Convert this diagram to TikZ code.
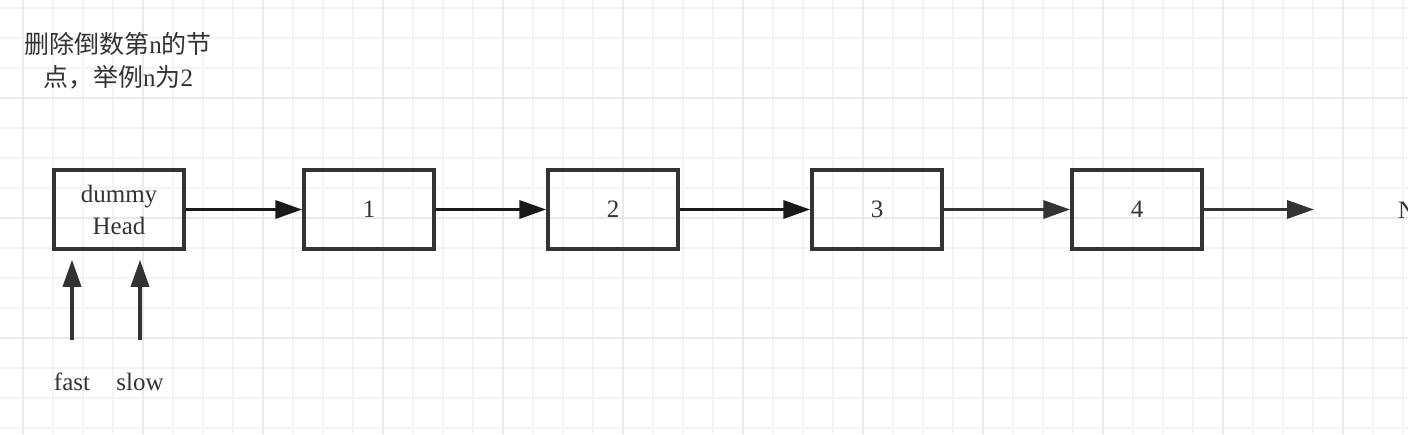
\documentclass[tikz,border=0pt]{standalone}
\usepackage{fontspec}
\setmainfont{Liberation Serif}
\newfontfamily\cjk{Noto Sans CJK SC}
\usetikzlibrary{arrows.meta}
\definecolor{linegray}{HTML}{333333}
\definecolor{gridminor}{HTML}{F4F4F4}
\definecolor{gridmajor}{HTML}{EAEAEA}

\begin{document}
\begin{tikzpicture}[x=1pt,y=-1pt,
  listnode/.style={draw=linegray,line width=3.5pt,minimum width=130pt,
    minimum height=79pt,inner sep=0pt,align=center,text=linegray,
    font=\fontsize{25}{32}\selectfont},
  plaintext/.style={inner sep=0pt,align=center,text=linegray,
    font=\fontsize{25}{33}\selectfont},
  link/.style={line width=3.5pt,-{Triangle[length=27pt,width=18pt]}}]
\useasboundingbox (0,0) rectangle (1408,434);
\fill[white] (0,0) rectangle (1408,434);
\foreach \x in {23,53,...,1403} \draw[gridminor,line width=2pt] (\x,0) -- (\x,434);
\foreach \y in {8,38,...,428} \draw[gridminor,line width=2pt] (0,\y) -- (1408,\y);
\foreach \x in {23,143,...,1343} \draw[gridmajor,line width=2pt] (\x,0) -- (\x,434);
\foreach \y in {98,218,338} \draw[gridmajor,line width=2pt] (0,\y) -- (1408,\y);

\node[plaintext] (title) at (118,61) {{\cjk 删除倒数第}n{\cjk 的节}\\{\cjk 点，举例}n{\cjk 为}2};

\node[listnode] (dummy) at (119,209.5) {dummy\\Head};
\node[listnode] (n1) at (369,209.5) {1};
\node[listnode] (n2) at (613,209.5) {2};
\node[listnode] (n3) at (877,209.5) {3};
\node[listnode] (n4) at (1137,209.5) {4};
\node[plaintext,anchor=west] (null) at (1398,210) {NULL};
\coordinate (nullend) at (1314,209.5);

\draw[link,black!90] (dummy) -- (n1);
\draw[link,black!90] (n1) -- (n2);
\draw[link,black!90] (n2) -- (n3);
\draw[link,linegray] (n3) -- (n4);
\draw[link,linegray] (n4) -- (nullend);

\node[plaintext] (fast) at (72,382) {fast};
\node[plaintext] (slow) at (140,382) {slow};
\draw[link,linegray,shorten <=33pt,shorten >=9pt] (fast.north) -- (fast.north |- dummy.south);
\draw[link,linegray,shorten <=33pt,shorten >=9pt] (slow.north) -- (slow.north |- dummy.south);
\end{tikzpicture}
\end{document}
